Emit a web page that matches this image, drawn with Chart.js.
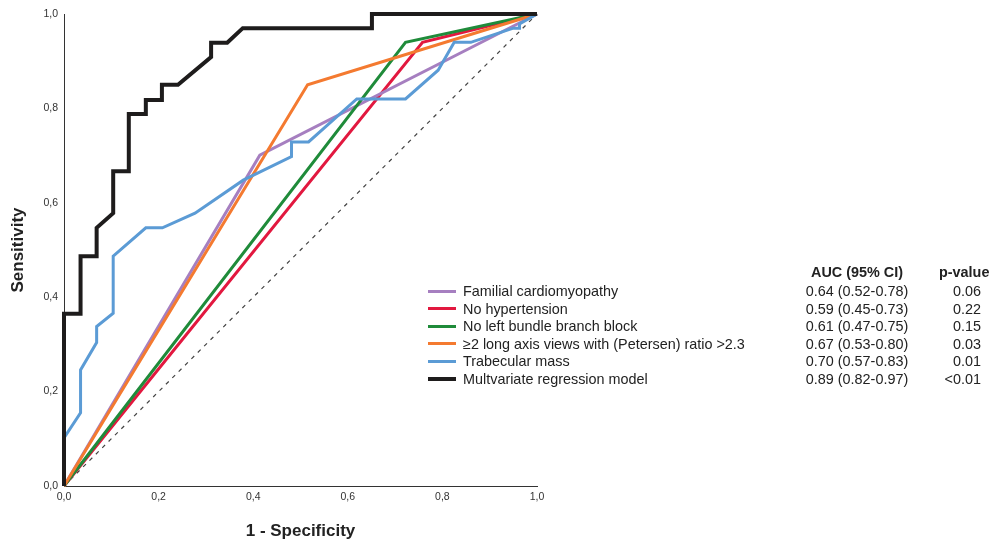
<!DOCTYPE html>
<html>
<head>
<meta charset="utf-8">
<script src="https://cdn.jsdelivr.net/npm/chart.js@4/dist/chart.umd.min.js"></script>
<style>
  html, body { margin: 0; padding: 0; background: #fff; }
  #wrap { position: relative; width: 995px; height: 541px; font-family: "Liberation Sans", Arial, sans-serif; color: #222; }
  #roc { position: absolute; left: 0; top: 0; }
  .lg { position: absolute; font-size: 14.4px; line-height: 16px; white-space: nowrap; }
  .sw { position: absolute; left: 428px; width: 28px; }
  .hd { font-weight: bold; }
</style>
</head>
<body>
<div id="wrap">
  <canvas id="roc" width="995" height="541"></canvas>
  <div id="legend"></div>
</div>
<script>
// ROC curves: false positive rate (1 - specificity) vs sensitivity
const seriesNames = [
  "Familial cardiomyopathy",
  "No hypertension",
  "No left bundle branch block",
  "\u22652 long axis views with (Petersen) ratio >2.3",
  "Trabecular mass",
  "Multvariate regression model"
];
const aucLabels = ["0.64 (0.52-0.78)", "0.59 (0.45-0.73)", "0.61 (0.47-0.75)", "0.67 (0.53-0.80)", "0.70 (0.57-0.83)", "0.89 (0.82-0.97)"];
const pValues   = ["0.06", "0.22", "0.15", "0.03", "0.01", "<0.01"];
const colors    = ["#a67fc0", "#e2183f", "#1f8b3a", "#f47a30", "#5b9bd5", "#1e1c1c"];

const famFpr = [0, 0.414, 1];
const famTpr = [0, 0.701, 1];
const htnFpr = [0, 0.758, 1];
const htnTpr = [0, 0.940, 1];
const lbbbFpr = [0, 0.722, 1];
const lbbbTpr = [0, 0.940, 1];
const petFpr = [0, 0.515, 1];
const petTpr = [0, 0.850, 1];
const trabFpr = [0, 0, 0.035, 0.035, 0.069, 0.069, 0.104, 0.104, 0.173, 0.208, 0.277, 0.379, 0.481, 0.481, 0.517, 0.619, 0.722, 0.791, 0.825, 0.860, 0.950, 0.963, 0.963, 1];
const trabTpr = [0, 0.102, 0.155, 0.246, 0.304, 0.338, 0.366, 0.487, 0.547, 0.547, 0.578, 0.648, 0.698, 0.729, 0.729, 0.820, 0.820, 0.881, 0.940, 0.940, 0.970, 0.970, 0.979, 1];
const multiFpr = [0, 0, 0.035, 0.035, 0.069, 0.069, 0.104, 0.104, 0.137, 0.137, 0.173, 0.173, 0.207, 0.207, 0.241, 0.311, 0.311, 0.345, 0.378, 0.651, 0.651, 1];
const multiTpr = [0, 0.365, 0.365, 0.487, 0.487, 0.547, 0.578, 0.667, 0.667, 0.788, 0.788, 0.818, 0.818, 0.850, 0.850, 0.909, 0.939, 0.939, 0.970, 0.970, 1, 1];
const refFpr = [0, 1];
const refTpr = [0, 1];

const xTicks = [0, 0.2, 0.4, 0.6, 0.8, 1.0];

function pts(xs, ys) {
  return xs.map((x, i) => ({ x: x, y: ys[i] }));
}

const curves = [
  [famFpr, famTpr], [htnFpr, htnTpr], [lbbbFpr, lbbbTpr],
  [petFpr, petTpr], [trabFpr, trabTpr], [multiFpr, multiTpr]
];
const drawOrder = [4, 5, 3, 2, 1, 0]; // lower = on top

const datasets = curves.map((c, i) => ({
  label: seriesNames[i],
  data: pts(c[0], c[1]),
  borderColor: colors[i],
  borderWidth: i === 5 ? 4 : 3,
  borderJoinStyle: "miter",
  pointRadius: 0,
  tension: 0,
  clip: false,
  order: drawOrder[i]
}));
datasets.push({
  label: "reference",
  data: pts(refFpr, refTpr),
  borderColor: "#444",
  borderWidth: 1.2,
  borderDash: [4, 5],
  pointRadius: 0,
  clip: false,
  order: 9
});

const fmt = v => v.toFixed(1).replace(".", ",");

new Chart(document.getElementById("roc").getContext("2d"), {
  type: "line",
  data: { datasets: datasets },
  options: {
    responsive: false,
    animation: false,
    layout: { padding: { left: 0, top: 14, right: 458, bottom: 0 } },
    plugins: { legend: { display: false }, tooltip: { enabled: false } },
    scales: {
      x: {
        type: "linear", min: 0, max: 1,
        afterFit: s => { s.height = 55; },
        afterBuildTicks: s => { s.ticks = xTicks.map(v => ({ value: v })); },
        grid: { display: false, drawTicks: false },
        border: { display: true, color: "#333", width: 1 },
        ticks: { padding: 5, color: "#333", font: { family: "Liberation Sans", size: 10.5 }, callback: v => fmt(v), maxRotation: 0 },
        title: { display: true, text: "1 - Specificity", color: "#222", padding: { top: 0, bottom: -1 },
                 font: { family: "Liberation Sans", size: 17, weight: "bold" } }
      },
      y: {
        type: "linear", min: 0, max: 1,
        afterFit: s => { s.width = 64; },
        afterBuildTicks: s => { s.ticks = xTicks.map(v => ({ value: v })); },
        grid: { display: false, drawTicks: false },
        border: { display: true, color: "#333", width: 1 },
        ticks: { padding: 6, color: "#333", font: { family: "Liberation Sans", size: 10.5 }, callback: v => fmt(v) },
        title: { display: true, text: "Sensitivity", color: "#222", padding: { top: 8, bottom: 0 },
                 font: { family: "Liberation Sans", size: 17, weight: "bold" } }
      }
    }
  }
});

// legend table
const lg = document.getElementById("legend");
let html = '<div class="lg hd" style="left:797px;width:120px;text-align:center;top:264px">AUC (95% CI)</div>' +
           '<div class="lg hd" style="left:939px;top:264px">p-value</div>';
seriesNames.forEach((name, i) => {
  const cy = 291 + i * 17.6;
  const h = i === 5 ? 4 : 3;
  html += '<div class="sw" style="top:' + (cy - h / 2) + 'px;height:' + h + 'px;background:' + colors[i] + '"></div>';
  html += '<div class="lg" style="left:463px;top:' + (cy - 8) + 'px">' + name.replace(/>/g, "&gt;") + '</div>';
  html += '<div class="lg" style="left:797px;width:120px;text-align:center;top:' + (cy - 8) + 'px">' + aucLabels[i] + '</div>';
  html += '<div class="lg" style="left:901px;width:80px;text-align:right;top:' + (cy - 8) + 'px">' + pValues[i].replace(/</g, "&lt;") + '</div>';
});
lg.innerHTML = html;
</script>
</body>
</html>
